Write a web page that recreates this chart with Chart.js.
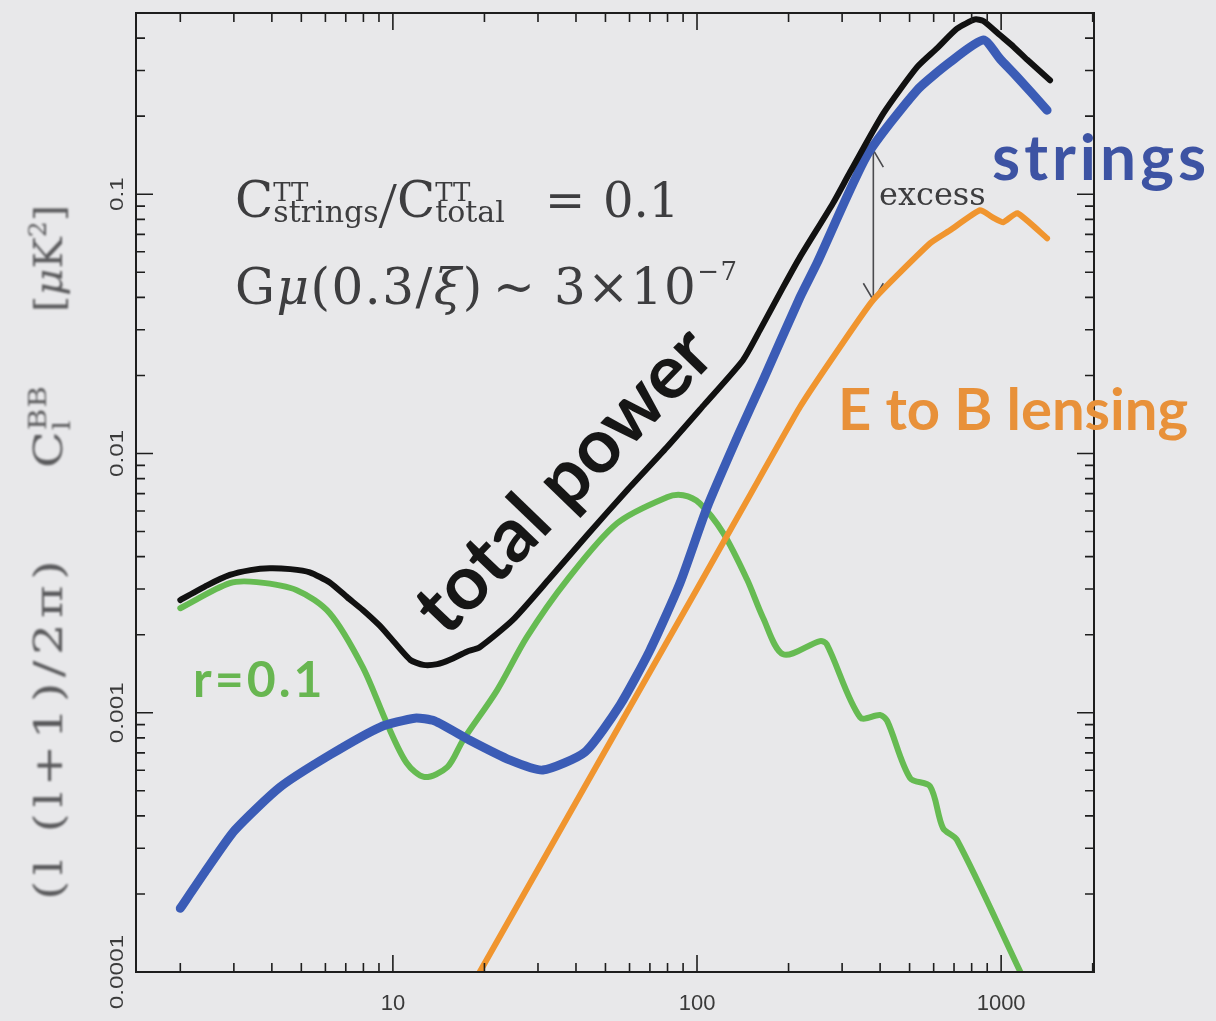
<!DOCTYPE html>
<html>
<head>
<meta charset="utf-8">
<title>B-mode power spectrum</title>
<script src="https://cdn.jsdelivr.net/npm/chart.js@4.4.0/dist/chart.umd.min.js"></script>
<style>
  html, body { margin: 0; padding: 0; background: #e8e8ea; }
  canvas { display: block; }
</style>
</head>
<body>
<canvas id="spectrum" width="1216" height="1021"></canvas>
<script>
// multipole l and (l(l+1)/2pi) C_l^BB in muK^2 for each curve
const totalL = [2, 2.45, 2.91, 3.4, 3.94, 4.6, 5.33, 6.2, 7.1, 7.96, 9.0, 9.77, 11.4, 12.6, 14, 15.4, 17.5, 19.3, 24.8, 32.8, 43.5, 58.9, 79.6, 106, 141.6, 161, 192, 218, 280, 319, 410, 529, 615, 716, 820, 874, 993, 1100, 1219, 1448];
const totalCl = [0.00272, 0.0031, 0.0034, 0.00355, 0.00361, 0.00358, 0.00348, 0.00318, 0.00278, 0.00249, 0.00218, 0.00196, 0.0016, 0.00153, 0.00154, 0.0016, 0.00172, 0.00179, 0.00228, 0.0033, 0.00484, 0.00722, 0.01057, 0.0155, 0.0229, 0.0299, 0.0438, 0.0572, 0.0923, 0.122, 0.205, 0.309, 0.365, 0.435, 0.472, 0.466, 0.41, 0.37, 0.33, 0.275];

const stringsL = [2, 2.41, 3.02, 4.25, 6.2, 9.06, 11.8, 13.7, 17.9, 24.3, 31.1, 42.8, 55.8, 70, 87.9, 108, 138, 165, 218, 248, 362, 529, 679, 874, 993, 1130, 1416];
const stringsCl = [0.000176, 0.000243, 0.000352, 0.000516, 0.000687, 0.000879, 0.000953, 0.00093, 0.000783, 0.000656, 0.000601, 0.000705, 0.00107, 0.00174, 0.00316, 0.00621, 0.0121, 0.0192, 0.040, 0.0542, 0.141, 0.252, 0.323, 0.393, 0.332, 0.283, 0.211];

const lensingL = [19.3, 61.5, 100, 150, 218, 280, 379, 584, 679, 853, 935, 1016, 1130, 1416];
const lensingCl = [0.0001, 0.0011, 0.003, 0.00697, 0.0151, 0.0235, 0.039, 0.0647, 0.0726, 0.0868, 0.0816, 0.078, 0.0845, 0.0676];

const tensorL = [2, 2.91, 3.57, 4.83, 6.2, 7.96, 9.55, 11.1, 12.7, 15.1, 17.0, 22, 27.6, 37.3, 54.6, 79.6, 90, 102, 122, 146, 165, 192, 254, 267, 344, 400, 422, 502, 584, 644, 716, 1157];
const tensorCl = [0.00253, 0.00316, 0.00319, 0.00297, 0.00242, 0.0015, 0.000912, 0.00064, 0.000565, 0.000617, 0.000783, 0.00122, 0.00196, 0.00324, 0.00538, 0.00678, 0.0069, 0.00643, 0.00493, 0.00327, 0.00232, 0.00168, 0.00189, 0.00184, 0.00096, 0.00098, 0.00093, 0.00056, 0.00052, 0.000359, 0.000323, 0.0001];

const xTickValues = [10, 100, 1000];
const xTickLabels = ['10', '100', '1000'];
const yTickValues = [0.0001, 0.001, 0.01, 0.1];
const yTickLabels = ['0.0001', '0.001', '0.01', '0.1'];

// the "excess" arrow runs from the strings curve down to the lensing curve
const excessL = 380;
const excessTop = 0.148;
const excessBottom = 0.039;

const SERIF = '"DejaVu Serif", "Liberation Serif", serif';
const THIN_SERIF = '"Liberation Serif", serif';
const SANS = 'Lato, "Open Sans", sans-serif';
const LABEL = '"Liberation Sans", Arial, sans-serif';

function toPoints(xs, ys) {
    return xs.map((x, i) => ({ x: x, y: ys[i] }));
}

function partFont(p) {
    return (p.italic ? 'italic ' : '') + p.size + 'px ' + (p.family || SERIF);
}

// draw a run of text pieces (sub/superscripts via dy); "stay" pieces do not advance the pen
function drawParts(ctx, x, y, parts) {
    let cx = x;
    parts.forEach(p => {
        ctx.font = partFont(p);
        cx += p.dx || 0;
        ctx.fillText(p.t, cx, y + (p.dy || 0));
        if (!p.stay) cx += ctx.measureText(p.t).width;
    });
    return cx;
}

function partsWidth(ctx, parts) {
    let w = 0;
    parts.forEach(p => {
        ctx.font = partFont(p);
        w += p.dx || 0;
        if (!p.stay) w += ctx.measureText(p.t).width;
    });
    return w;
}

// rotated y title piece, spaced out and stretched to cover [from, to] in screen y
function drawTitlePiece(ctx, cx, from, to, spacing, parts) {
    ctx.save();
    ctx.letterSpacing = spacing + 'px';
    const w = partsWidth(ctx, parts);
    ctx.translate(cx, from);
    ctx.rotate(-Math.PI / 2);
    ctx.scale((from - to) / w, 1);
    drawParts(ctx, 0, 0, parts);
    ctx.restore();
}

const decorations = {
    id: 'decorations',
    beforeDatasetsDraw(chart) {
        const ctx = chart.ctx;
        const xs = chart.scales.x, ys = chart.scales.y;
        const ax = xs.getPixelForValue(excessL);
        const ay1 = ys.getPixelForValue(excessTop);
        const ay2 = ys.getPixelForValue(excessBottom);
        ctx.save();
        ctx.strokeStyle = '#4a4a4e';
        ctx.lineWidth = 1.6;
        ctx.beginPath();
        ctx.moveTo(ax, ay1);
        ctx.lineTo(ax, ay2);
        ctx.moveTo(ax - 10, ay2 - 17);
        ctx.lineTo(ax, ay2);
        ctx.lineTo(ax + 10, ay2 - 17);
        ctx.moveTo(ax - 10, ay1 + 17);
        ctx.lineTo(ax, ay1);
        ctx.lineTo(ax + 10, ay1 + 17);
        ctx.stroke();
        ctx.restore();
    },
    afterDatasetsDraw(chart) {
        const ctx = chart.ctx;
        const area = chart.chartArea;
        const xs = chart.scales.x, ys = chart.scales.y;
        ctx.save();

        // frame with inward ticks on all four sides
        ctx.strokeStyle = '#1e1e1e';
        ctx.lineWidth = 2;
        ctx.strokeRect(area.left, area.top, area.right - area.left, area.bottom - area.top);
        ctx.lineWidth = 1.6;
        ctx.beginPath();
        for (let n = 0; n <= 3; n++) {
            for (let k = 1; k <= 9; k++) {
                const v = k * Math.pow(10, n);
                if (v < xs.min || v > xs.max) continue;
                const px = xs.getPixelForValue(v);
                const len = k === 1 ? 17 : 9;
                ctx.moveTo(px, area.bottom);
                ctx.lineTo(px, area.bottom - len);
                ctx.moveTo(px, area.top);
                ctx.lineTo(px, area.top + len);
            }
        }
        for (let n = -4; n <= -1; n++) {
            for (let k = 1; k <= 9; k++) {
                const v = k * Math.pow(10, n);
                if (v < ys.min || v > ys.max) continue;
                const py = ys.getPixelForValue(v);
                const len = k === 1 ? 17 : 9;
                ctx.moveTo(area.left, py);
                ctx.lineTo(area.left + len, py);
                ctx.moveTo(area.right, py);
                ctx.lineTo(area.right - len, py);
            }
        }
        ctx.stroke();

        // tick labels
        ctx.fillStyle = '#3a3a3a';
        ctx.textAlign = 'center';
        ctx.textBaseline = 'middle';
        ctx.font = '22px ' + LABEL;
        xTickValues.forEach((v, i) => {
            ctx.fillText(xTickLabels[i], xs.getPixelForValue(v), area.bottom + 32);
        });
        ctx.font = '18px ' + LABEL;
        yTickValues.forEach((v, i) => {
            ctx.save();
            ctx.translate(area.left - 18, ys.getPixelForValue(v));
            ctx.rotate(-Math.PI / 2);
            ctx.scale(1.35, 1);
            ctx.fillText(yTickLabels[i], 0, 0);
            ctx.restore();
        });

        // y axis title
        ctx.save();
        ctx.filter = 'blur(0.8px)';
        ctx.fillStyle = '#5a5a5c';
        ctx.textAlign = 'left';
        ctx.textBaseline = 'middle';
        drawTitlePiece(ctx, 52, 900, 555, 4.5, [
            { t: '(l (l+1)/2\u03c0)', size: 40 }
        ]);
        drawTitlePiece(ctx, 52, 468, 385, 1, [
            { t: 'C', size: 40 },
            { t: 'l', size: 24, dy: 12, stay: true },
            { t: 'BB', size: 24, dy: -12 }
        ]);
        drawTitlePiece(ctx, 52, 312, 205, 0, [
            { t: '[', size: 40 },
            { t: '\u03bc', size: 40, italic: true },
            { t: 'K', size: 40 },
            { t: '2', size: 24, dy: -12 },
            { t: ']', size: 40 }
        ]);
        ctx.restore();

        // parameter notes
        ctx.fillStyle = '#3d3d3f';
        ctx.textAlign = 'left';
        ctx.textBaseline = 'alphabetic';
        drawParts(ctx, 235, 217, [
            { t: 'C', size: 50 },
            { t: 'TT', size: 26, dy: -16, stay: true },
            { t: 'strings', size: 30, dy: 5 },
            { t: '/', size: 66, dy: 10, family: THIN_SERIF },
            { t: 'C', size: 50 },
            { t: 'TT', size: 26, dy: -16, stay: true },
            { t: 'total', size: 30, dy: 5 }
        ]);
        ctx.font = '48px ' + SERIF;
        ctx.fillText('=', 545, 217);
        ctx.fillText('0.1', 603, 217);

        ctx.letterSpacing = '1.5px';
        drawParts(ctx, 235, 304, [
            { t: 'G', size: 50 },
            { t: '\u03bc', size: 50, italic: true },
            { t: '(0.3/', size: 50 },
            { t: '\u03be', size: 50, italic: true },
            { t: ')', size: 50 }
        ]);
        ctx.font = '50px ' + SERIF;
        ctx.fillText('~', 493, 304);
        drawParts(ctx, 554, 304, [
            { t: '3\u00d710', size: 50 },
            { t: '\u22127', size: 26, dy: -24 }
        ]);
        ctx.letterSpacing = '0px';

        ctx.font = '32px ' + SERIF;
        ctx.fillText('excess', 879, 205);

        // curve labels
        ctx.font = 'bold 64px ' + SANS;
        ctx.fillStyle = '#3d53a3';
        ctx.letterSpacing = '4px';
        ctx.fillText('strings', 992, 180);

        ctx.font = 'bold 50px ' + SANS;
        ctx.fillStyle = '#68b651';
        ctx.letterSpacing = '3px';
        ctx.fillText('r=0.1', 193, 697);
        ctx.letterSpacing = '0px';

        ctx.font = 'bold 58px ' + SANS;
        ctx.fillStyle = '#e8913a';
        ctx.fillText('E to B lensing', 838, 430);

        ctx.save();
        ctx.translate(582, 498);
        ctx.rotate(-46 * Math.PI / 180);
        ctx.font = 'bold 76px ' + SANS;
        ctx.fillStyle = '#161616';
        ctx.textAlign = 'center';
        ctx.fillText('total power', 0, 0);
        ctx.restore();

        ctx.restore();
    }
};

const lineStyle = {
    showLine: true,
    pointRadius: 0,
    tension: 0.2,
    borderCapStyle: 'round',
    borderJoinStyle: 'round'
};

new Chart(document.getElementById('spectrum').getContext('2d'), {
    type: 'scatter',
    data: {
        datasets: [
            Object.assign({ label: 'total power', data: toPoints(totalL, totalCl), borderColor: '#111111', borderWidth: 6 }, lineStyle),
            Object.assign({ label: 'strings', data: toPoints(stringsL, stringsCl), borderColor: '#3b5cb6', borderWidth: 9 }, lineStyle),
            Object.assign({ label: 'E to B lensing', data: toPoints(lensingL, lensingCl), borderColor: '#f0952f', borderWidth: 6 }, lineStyle, { tension: 0.15 }),
            Object.assign({ label: 'r=0.1', data: toPoints(tensorL, tensorCl), borderColor: '#66bb52', borderWidth: 6 }, lineStyle, { tension: 0.3 })
        ]
    },
    options: {
        responsive: false,
        animation: false,
        layout: { padding: { left: 136, right: 122, top: 13, bottom: 49 } },
        plugins: {
            legend: { display: false },
            tooltip: { enabled: false }
        },
        scales: {
            x: { type: 'logarithmic', min: 1.43, max: 2020, display: false },
            y: { type: 'logarithmic', min: 0.0001, max: 0.5, display: false }
        }
    },
    plugins: [decorations]
});
</script>
</body>
</html>
